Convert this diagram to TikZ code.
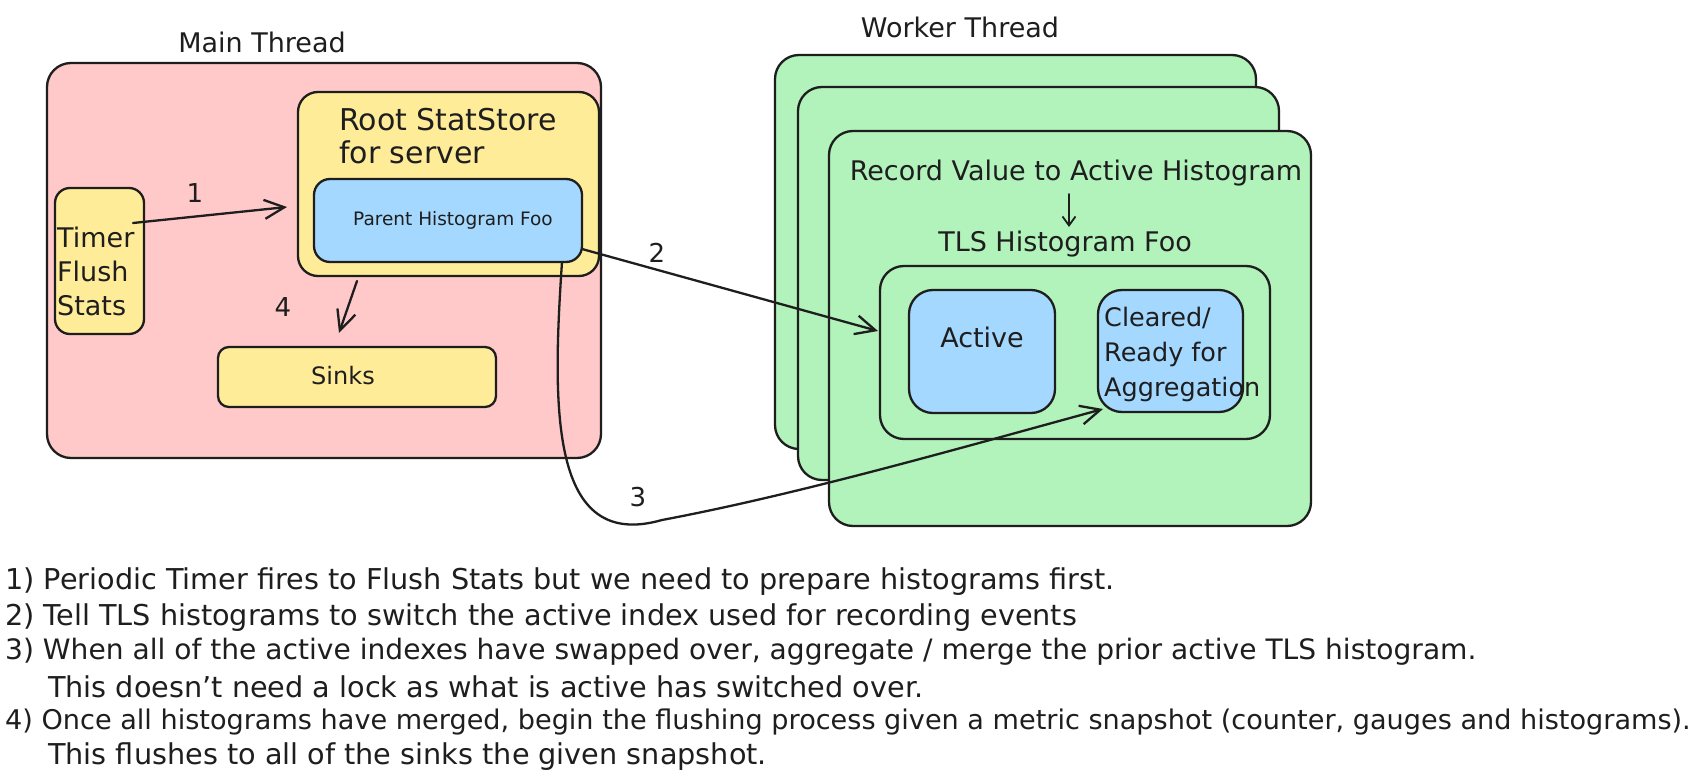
\documentclass[tikz,border=0pt]{standalone}
\usepackage{fontspec}
\setmainfont{DejaVu Sans}
\usetikzlibrary{arrows.meta}
\definecolor{stroke}{HTML}{1E1E1E}
\definecolor{pinkfill}{HTML}{FFC9C9}
\definecolor{yellowfill}{HTML}{FFEC99}
\definecolor{bluefill}{HTML}{A5D8FF}
\definecolor{greenfill}{HTML}{B2F2BB}
\tikzset{
  box/.style={draw=stroke, line width=2.3pt, rounded corners=#1, inner sep=0pt, outer sep=0pt, anchor=north west},
  lbl/.style={inner sep=0pt, text=stroke, font=\fontsize{27}{34}\selectfont},
  bt/.style={inner sep=0pt, text=stroke, anchor=west, font=\fontsize{28.7}{35}\selectfont},
  conn/.style={draw=stroke, line width=2.3pt, line cap=round, -{Straight Barb[length=20pt,width=19pt]}},
  connsmall/.style={draw=stroke, line width=1.8pt, line cap=round, -{Straight Barb[length=9pt,width=13pt]}}
}
\begin{document}
\begin{tikzpicture}[x=1pt,y=-1pt]
\useasboundingbox (0,0) rectangle (1700,783);
\fill[white] (0,0) rectangle (1700,783);

% ---- Main thread ----
\node[lbl] (maintitle) at (262,42) {Main Thread};
\node[box=24pt, fill=pinkfill, minimum width=554pt, minimum height=395pt] (main) at (47,63) {};
\node[box=20pt, fill=yellowfill, minimum width=301pt, minimum height=184pt] (root) at (298,92) {};
\node[lbl, anchor=west, align=left, font=\fontsize{30}{33}\selectfont] (roottxt) at (339,136) {Root StatStore\\for server};
\node[box=16pt, fill=bluefill, minimum width=268pt, minimum height=83pt] (parent) at (314,179) {};
\node[lbl, font=\fontsize{18.5}{22}\selectfont] (parenttxt) at (453,220) {Parent Histogram Foo};
\node[box=15pt, fill=yellowfill, minimum width=89pt, minimum height=146pt] (timer) at (55,188) {};
\node[lbl, anchor=west, align=left] (timertxt) at (57,271) {Timer\\Flush\\Stats};
\node[box=11pt, fill=yellowfill, minimum width=278pt, minimum height=60pt] (sinks) at (218,347) {};
\node[lbl, font=\fontsize{24}{28}\selectfont] (sinkstxt) at (343,376) {Sinks};

% ---- Worker thread ----
\node[lbl] (workertitle) at (960,27) {Worker Thread};
\node[box=24pt, fill=greenfill, minimum width=481pt, minimum height=394pt] (w1) at (775,55) {};
\node[box=24pt, fill=greenfill, minimum width=481pt, minimum height=393pt] (w2) at (798,87) {};
\node[box=24pt, fill=greenfill, minimum width=482pt, minimum height=395pt] (w3) at (829,131) {};
\node[lbl] (recval) at (1076,173) {Record Value to Active Histogram};
\node[lbl] (tlslbl) at (1065,244) {TLS Histogram Foo};
\node[box=24pt, fill=greenfill, minimum width=390pt, minimum height=173pt] (tls) at (880,266) {};
\node[box=24pt, fill=bluefill, minimum width=146pt, minimum height=123pt] (active) at (909,290) {};
\node[lbl] (activetxt) at (982,337) {Active};
\node[box=24pt, fill=bluefill, minimum width=145pt, minimum height=122pt] (cleared) at (1098,290) {};
\node[lbl, anchor=west, align=left, font=\fontsize{25.5}{35}\selectfont] (clearedtxt) at (1104,354) {Cleared/\\Ready for\\Aggregation};

% ---- connector end points ----
\coordinate (a1s) at (133,223);
\coordinate (a1e) at (287,207);
\coordinate (a4s) at (357,281);
\coordinate (a4e) at (339,333);
\coordinate (a2s) at (582,249);
\coordinate (a2e) at (878,331);
\coordinate (a3s) at (562,262);
\coordinate (a3m) at (662,520);
\coordinate (a3e) at (1103,409);
\coordinate (d1) at (1069,194);
\coordinate (d2) at (1069,227);

% ---- connectors ----
\draw[conn] (a1s) -- (a1e);
\draw[conn] (a4s) -- (a4e);
\draw[conn] (a2s) -- (a2e);
\draw[conn] (a3s) .. controls (552,410) and (550,552) .. (a3m) .. controls (800,494) and (960,448) .. (a3e);
\draw[connsmall] (d1) -- (d2);

% ---- connector labels ----
\node[lbl, font=\fontsize{26}{30}\selectfont] (l1) at (195,193) {1};
\node[lbl, font=\fontsize{26}{30}\selectfont] (l2) at (657,253) {2};
\node[lbl, font=\fontsize{26}{30}\selectfont] (l3) at (638,497) {3};
\node[lbl, font=\fontsize{26}{30}\selectfont] (l4) at (283,307) {4};

% ---- notes ----
\node[bt] (n1) at (5,582) {1) Periodic Timer fires to Flush Stats but we need to prepare histograms first.};
\node[bt] (n2) at (5,618) {2) Tell TLS histograms to switch the active index used for recording events};
\node[bt, font=\fontsize{28.1}{35}\selectfont] (n3) at (5,652) {3) When all of the active indexes have swapped over, aggregate / merge the prior active TLS histogram.};
\node[bt] (n3b) at (48,687) {This doesn't need a lock as what is active has switched over.};
\node[bt, font=\fontsize{27.1}{35}\selectfont] (n4) at (5,722) {4) Once all histograms have merged, begin the flushing process given a metric snapshot (counter, gauges and histograms).};
\node[bt] (n4b) at (48,757) {This flushes to all of the sinks the given snapshot.};
\end{tikzpicture}
\end{document}
